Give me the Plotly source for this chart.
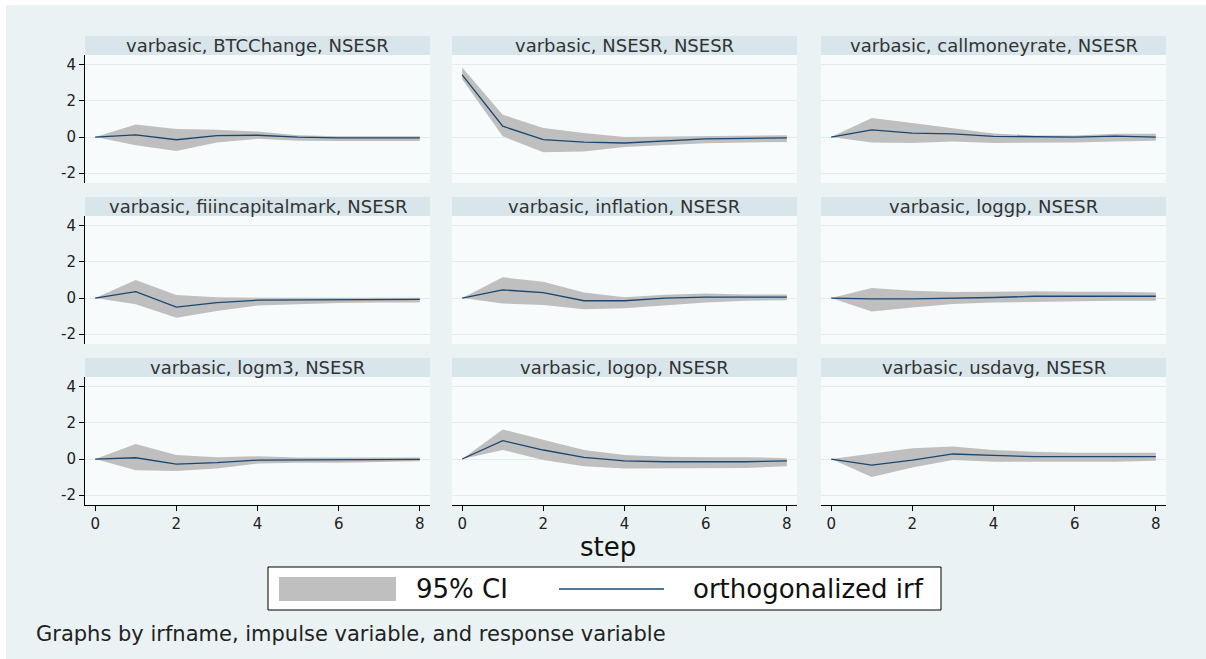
import plotly.graph_objects as go

W, H = 1206, 659

steps = [0, 1, 2, 3, 4, 5, 6, 7, 8]
titles = ["varbasic, BTCChange, NSESR", "varbasic, NSESR, NSESR", "varbasic, callmoneyrate, NSESR",
          "varbasic, fiiincapitalmark, NSESR", "varbasic, inflation, NSESR", "varbasic, loggp, NSESR",
          "varbasic, logm3, NSESR", "varbasic, logop, NSESR", "varbasic, usdavg, NSESR"]

irf_btc = [0, 0.12, -0.15, 0.08, 0.1, 0.0, -0.05, -0.05, -0.05]
lo_btc = [0, -0.45, -0.78, -0.3, -0.1, -0.2, -0.22, -0.22, -0.22]
hi_btc = [0, 0.7, 0.45, 0.4, 0.3, 0.1, 0.05, 0.05, 0.05]

irf_nse = [3.45, 0.6, -0.15, -0.28, -0.33, -0.2, -0.1, -0.07, -0.05]
lo_nse = [3.2, 0.04, -0.85, -0.8, -0.55, -0.43, -0.35, -0.3, -0.28]
hi_nse = [3.85, 1.24, 0.5, 0.22, 0.0, 0.03, 0.05, 0.08, 0.1]

irf_call = [0, 0.4, 0.22, 0.18, 0.04, 0.0, 0.0, 0.05, 0.0]
lo_call = [0, -0.3, -0.33, -0.25, -0.33, -0.33, -0.3, -0.25, -0.2]
hi_call = [0, 1.05, 0.78, 0.5, 0.2, 0.08, 0.08, 0.18, 0.18]

irf_fii = [0, 0.35, -0.5, -0.25, -0.12, -0.1, -0.08, -0.08, -0.08]
lo_fii = [0, -0.35, -1.1, -0.72, -0.42, -0.35, -0.27, -0.25, -0.25]
hi_fii = [0, 1.0, 0.17, 0.05, 0.02, 0.0, 0.02, 0.02, 0.02]

irf_inf = [0, 0.45, 0.3, -0.15, -0.15, 0.0, 0.05, 0.05, 0.05]
lo_inf = [0, -0.3, -0.38, -0.62, -0.57, -0.42, -0.25, -0.15, -0.12]
hi_inf = [0, 1.15, 0.9, 0.3, 0.05, 0.18, 0.25, 0.2, 0.2]

irf_gp = [0, -0.05, -0.05, -0.03, 0.03, 0.1, 0.1, 0.1, 0.1]
lo_gp = [0, -0.75, -0.52, -0.33, -0.25, -0.22, -0.15, -0.15, -0.15]
hi_gp = [0, 0.55, 0.4, 0.33, 0.35, 0.38, 0.35, 0.35, 0.3]

irf_m3 = [0, 0.07, -0.28, -0.2, -0.06, -0.05, -0.05, -0.02, -0.02]
lo_m3 = [0, -0.62, -0.66, -0.53, -0.25, -0.2, -0.2, -0.15, -0.12]
hi_m3 = [0, 0.83, 0.22, 0.1, 0.15, 0.08, 0.08, 0.1, 0.08]

irf_op = [0, 1.02, 0.5, 0.09, -0.1, -0.15, -0.15, -0.15, -0.1]
lo_op = [0, 0.5, -0.06, -0.4, -0.53, -0.53, -0.53, -0.5, -0.4]
hi_op = [0, 1.64, 1.07, 0.5, 0.22, 0.13, 0.1, 0.1, 0.05]

irf_usd = [0, -0.34, -0.06, 0.28, 0.2, 0.13, 0.13, 0.13, 0.13]
lo_usd = [0, -1.0, -0.47, -0.06, -0.15, -0.15, -0.15, -0.15, -0.1]
hi_usd = [0, 0.28, 0.6, 0.7, 0.5, 0.41, 0.35, 0.35, 0.35]

panels = [(irf_btc, lo_btc, hi_btc), (irf_nse, lo_nse, hi_nse), (irf_call, lo_call, hi_call),
          (irf_fii, lo_fii, hi_fii), (irf_inf, lo_inf, hi_inf), (irf_gp, lo_gp, hi_gp),
          (irf_m3, lo_m3, hi_m3), (irf_op, lo_op, hi_op), (irf_usd, lo_usd, hi_usd)]

y_ticks = [-2, 0, 2, 4]
y_tick_labels = ["-2", "0", "2", "4"]
x_ticks = [0, 2, 4, 6, 8]

BG = "#EAF2F3"
BAND = "#BFBFBF"
LINE = "#1A476F"
FONT = "DejaVu Sans"
TXT = "#222222"

col_px = [(85, 430), (452, 797), (821, 1166)]
row_px = [(55, 183), (216, 344), (377, 505)]


def xp(px):
    return px / W


def yp(py):
    return 1 - py / H


fig = go.Figure()
layout = dict(
    width=W, height=H, margin=dict(l=0, r=0, t=0, b=0),
    paper_bgcolor=BG, plot_bgcolor="#F8FBFC", showlegend=False,
    font=dict(family=FONT, color=TXT),
)
shapes = [
    # thin white page border at top and left as in the reference
    dict(type="rect", xref="paper", yref="paper", x0=0, x1=1, y0=yp(5), y1=1,
         fillcolor="#FFFFFF", line=dict(width=0), layer="below"),
    dict(type="rect", xref="paper", yref="paper", x0=0, x1=xp(6), y0=0, y1=1,
         fillcolor="#FFFFFF", line=dict(width=0), layer="below"),
]
annotations = []

for k, (irf, lo, hi) in enumerate(panels):
    r, c = divmod(k, 3)
    i = k + 1
    xa = "x" if i == 1 else f"x{i}"
    ya = "y" if i == 1 else f"y{i}"
    fig.add_trace(go.Scatter(x=steps, y=lo, mode="lines", line=dict(width=0, color=BAND),
                             xaxis=xa, yaxis=ya, hoverinfo="skip"))
    fig.add_trace(go.Scatter(x=steps, y=hi, mode="lines", line=dict(width=0, color=BAND),
                             fill="tonexty", fillcolor=BAND, xaxis=xa, yaxis=ya, hoverinfo="skip"))
    fig.add_trace(go.Scatter(x=steps, y=irf, mode="lines", line=dict(width=1.3, color=LINE),
                             xaxis=xa, yaxis=ya))
    cx0, cx1 = col_px[c]
    ry0, ry1 = row_px[r]
    bottom = (r == 2)
    left = (c == 0)
    layout["xaxis" if i == 1 else f"xaxis{i}"] = dict(
        domain=[xp(cx0), xp(cx1)], anchor=ya, range=[-0.25, 8.25],
        tickvals=x_ticks, showticklabels=bottom, ticks="outside" if bottom else "",
        ticklen=5, tickcolor="#000", showline=bottom, linecolor="#000", linewidth=1,
        showgrid=False, zeroline=False, tickfont=dict(size=15, color=TXT, family=FONT),
    )
    layout["yaxis" if i == 1 else f"yaxis{i}"] = dict(
        domain=[yp(ry1), yp(ry0)], anchor=xa, range=[-2.55, 4.55],
        tickvals=y_ticks, ticktext=y_tick_labels, showticklabels=left,
        ticks="outside" if left else "",
        ticklen=5, tickcolor="#000", showline=left, linecolor="#000", linewidth=1,
        showgrid=True, gridcolor="#E2EBEE", gridwidth=1, zeroline=False,
        tickfont=dict(size=15, color=TXT, family=FONT),
    )
    # title bar
    shapes.append(dict(type="rect", xref="paper", yref="paper",
                       x0=xp(cx0), x1=xp(cx1), y0=yp(ry0), y1=yp(ry0 - 19),
                       fillcolor="#D8E5EA", line=dict(width=0), layer="below"))
    annotations.append(dict(text=titles[k], xref="paper", yref="paper",
                            x=xp((cx0 + cx1) / 2), y=yp(ry0 - 9.5), xanchor="center", yanchor="middle",
                            showarrow=False, font=dict(size=18, color="#333333", family=FONT)))

# x-axis title
annotations.append(dict(text="step", xref="paper", yref="paper", x=xp(608), y=yp(547),
                        xanchor="center", yanchor="middle", showarrow=False,
                        font=dict(size=26, color="#111111", family=FONT)))

# legend box
shapes.append(dict(type="rect", xref="paper", yref="paper", x0=xp(268), x1=xp(941),
                   y0=yp(610), y1=yp(567), fillcolor="#FFFFFF", line=dict(color="#000000", width=1)))
shapes.append(dict(type="rect", xref="paper", yref="paper", x0=xp(279), x1=xp(396),
                   y0=yp(601), y1=yp(577), fillcolor=BAND, line=dict(width=0)))
shapes.append(dict(type="line", xref="paper", yref="paper", x0=xp(559), x1=xp(664),
                   y0=yp(589), y1=yp(589), line=dict(color=LINE, width=1.5)))
annotations.append(dict(text="95% CI", xref="paper", yref="paper", x=xp(414), y=yp(589),
                        xanchor="left", yanchor="middle", showarrow=False,
                        font=dict(size=26, color="#111111", family=FONT)))
annotations.append(dict(text="orthogonalized irf", xref="paper", yref="paper", x=xp(691), y=yp(589),
                        xanchor="left", yanchor="middle", showarrow=False,
                        font=dict(size=26, color="#111111", family=FONT)))

# note
annotations.append(dict(text="Graphs by irfname, impulse variable, and response variable",
                        xref="paper", yref="paper", x=xp(34), y=yp(634),
                        xanchor="left", yanchor="middle", showarrow=False,
                        font=dict(size=21, color="#222222", family=FONT)))

layout["shapes"] = shapes
layout["annotations"] = annotations
fig.update_layout(**layout)
fig.write_html(
    "out.html",
    config={"displayModeBar": False},
    post_script=(
        "document.body.style.margin='0px';"
        f"document.body.style.background='{BG}';"
        f"document.documentElement.style.background='{BG}';"
        "document.documentElement.style.overflow='hidden';"
    ),
)
